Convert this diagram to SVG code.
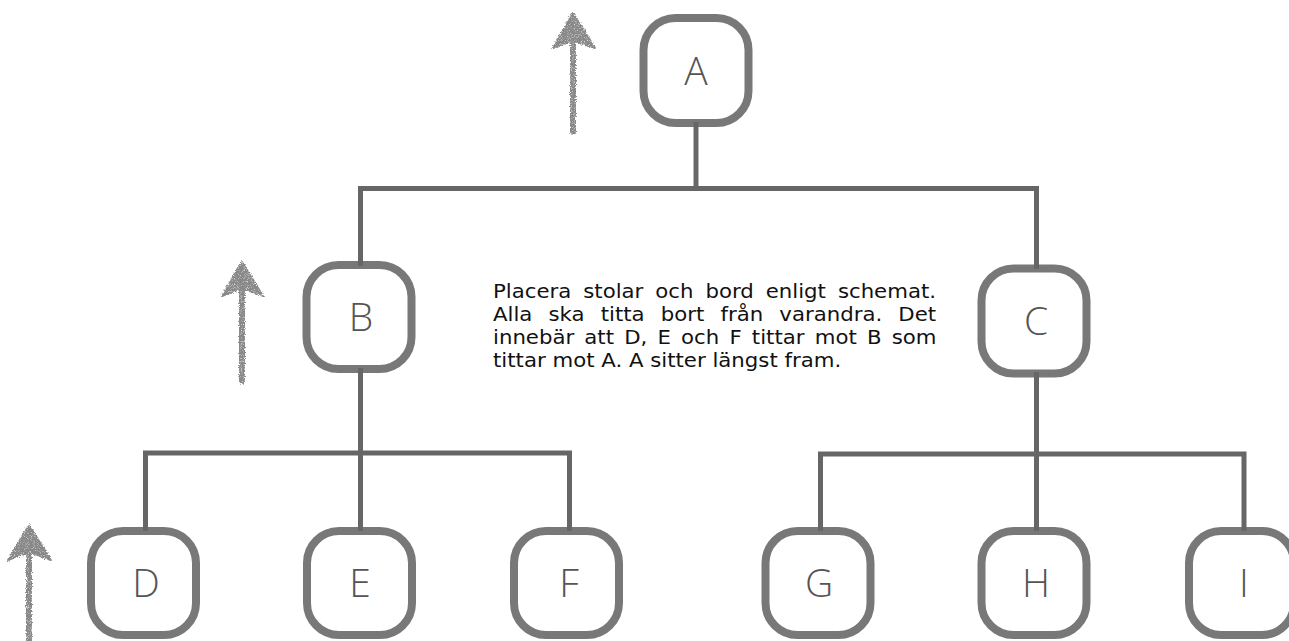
<svg xmlns="http://www.w3.org/2000/svg" width="1289" height="641" viewBox="0 0 1289 641">
<style>
.box{fill:#fff;stroke:#787878;stroke-width:8}
.lbl{font-family:"Open Sans","DejaVu Sans",sans-serif;font-weight:300;font-size:39px;fill:#555;text-anchor:middle}
.con{fill:none;stroke:#666;stroke-width:5;stroke-linejoin:miter}
.note{font-family:"DejaVu Sans","Liberation Sans",sans-serif;font-size:20px;fill:#111}
.arr{fill:#888;stroke:#888;stroke-width:2;stroke-linejoin:round}
.shaft{fill:none;stroke:#888;stroke-width:6;stroke-linecap:round}
</style>
<defs>
<filter id="rough" x="-50%" y="-10%" width="200%" height="120%">
<feTurbulence type="fractalNoise" baseFrequency="0.9" numOctaves="2" seed="3" result="n"/>
<feDisplacementMap in="SourceGraphic" in2="n" scale="4" xChannelSelector="R" yChannelSelector="G" result="d"/>
<feTurbulence type="fractalNoise" baseFrequency="1.3" numOctaves="1" seed="7" result="t2"/>
<feColorMatrix in="t2" type="matrix" values="0 0 0 0 0  0 0 0 0 0  0 0 0 0 0  0 0 0 -2.5 2.3" result="mask"/>
<feComposite in="d" in2="mask" operator="in"/>
</filter>
</defs>
<rect width="1289" height="641" fill="#fff"/>
<g id="arrows" filter="url(#rough)">
<g id="arrow1"><polygon class="arr" points="573,13 595,48 573,40 553,48"/><path class="shaft" d="M573 42 V132"/></g>
<g id="arrow2"><polygon class="arr" points="242,262 263,296 242,288 222,296"/><path class="shaft" d="M242 290 V381"/></g>
<g id="arrow3"><polygon class="arr" points="29,525 51,560 29,552 8,560"/><path class="shaft" d="M29 554 V645"/></g>
</g>
<g id="node-A"><rect class="box" x="643.5" y="18" width="105" height="105" rx="32"/><text class="lbl" x="696" y="85">A</text></g>
<g id="node-B"><rect class="box" x="306.5" y="265" width="105" height="104" rx="32"/><text class="lbl" x="361" y="331">B</text></g>
<g id="node-C"><rect class="box" x="981.5" y="268.5" width="105" height="105" rx="32"/><text class="lbl" x="1036" y="335">C</text></g>
<g id="node-D"><rect class="box" x="91" y="531" width="105" height="104" rx="32"/><text class="lbl" x="146" y="597">D</text></g>
<g id="node-E"><rect class="box" x="307" y="531" width="105" height="104" rx="32"/><text class="lbl" x="360" y="597">E</text></g>
<g id="node-F"><rect class="box" x="514" y="531" width="105" height="104" rx="32"/><text class="lbl" x="569" y="597">F</text></g>
<g id="node-G"><rect class="box" x="765.5" y="531" width="105" height="104" rx="32"/><text class="lbl" x="819" y="597">G</text></g>
<g id="node-H"><rect class="box" x="981.5" y="531" width="105" height="104" rx="32"/><text class="lbl" x="1036" y="597">H</text></g>
<g id="node-I"><rect class="box" x="1189" y="531" width="105" height="104" rx="32"/><text class="lbl" x="1244" y="597">I</text></g>
<g id="connectors">
<path class="con" d="M696 122 V188.5"/>
<path class="con" d="M360.5 266 V188.5 H1036.5 V269"/>
<path class="con" d="M360.5 368 V531"/>
<path class="con" d="M145.5 531 V453 H569.5 V531"/>
<path class="con" d="M1036.5 372 V531"/>
<path class="con" d="M820.5 531 V454 H1244 V531"/>
</g>
<g id="note" class="note" transform="translate(493,0) scale(1.064,1)">
<text x="0" y="298" word-spacing="4.9">Placera stolar och bord enligt schemat.</text>
<text x="0" y="321.5" word-spacing="8.82">Alla ska titta bort från varandra. Det</text>
<text x="0" y="344.5" word-spacing="3.21">innebär att D, E och F tittar mot B som</text>
<text x="0" y="367.5">tittar mot A. A sitter längst fram.</text>
</g>
</svg>
